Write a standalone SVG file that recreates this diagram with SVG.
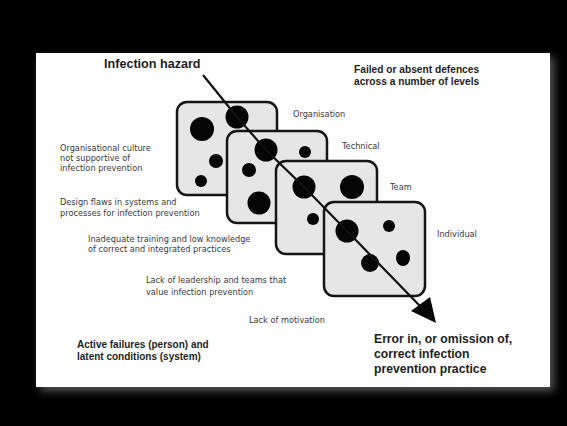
<svg xmlns="http://www.w3.org/2000/svg" width="567" height="426" viewBox="0 0 567 426">
<defs>
<style>
.box{fill:#e6e6e6;stroke:#151515;stroke-width:2.5}
.dot{fill:#050505}
.lbl{font-family:"DejaVu Sans","Liberation Sans",sans-serif;font-size:8.2px;fill:#3a3a3a}
.bold{font-family:"Liberation Sans",Arial,sans-serif;font-weight:bold;fill:#1e1e1e}
</style>
<filter id="sh" x="-10%" y="-10%" width="120%" height="120%">
<feGaussianBlur stdDeviation="4"/>
</filter>
</defs>
<rect x="0" y="0" width="567" height="426" fill="#000"/>
<rect x="40" y="57" width="514" height="334" fill="#555" filter="url(#sh)"/>
<rect x="36" y="53" width="514" height="334" fill="#fff"/>

<g id="box-organisation">
<rect class="box" x="177" y="102" width="100" height="93" rx="10"/>
<circle class="dot" cx="202" cy="129" r="12"/>
<circle class="dot" cx="237" cy="117" r="11.5"/>
<circle class="dot" cx="216" cy="161" r="7"/>
<circle class="dot" cx="201" cy="181" r="6"/>
</g>
<g id="box-technical">
<rect class="box" x="227" y="131" width="100" height="92" rx="10"/>
<circle class="dot" cx="266" cy="150" r="11.5"/>
<circle class="dot" cx="305" cy="152" r="6"/>
<circle class="dot" cx="249" cy="170" r="7"/>
<circle class="dot" cx="259" cy="203" r="11.5"/>
</g>
<g id="box-team">
<rect class="box" x="276" y="161" width="101" height="93" rx="10"/>
<circle class="dot" cx="304" cy="187" r="11.5"/>
<circle class="dot" cx="352" cy="187" r="12"/>
<circle class="dot" cx="313" cy="219" r="6"/>
</g>
<g id="box-individual">
<rect class="box" x="324" y="202" width="101" height="94" rx="10"/>
<circle class="dot" cx="347" cy="231" r="11.5"/>
<circle class="dot" cx="389" cy="226" r="6"/>
<circle class="dot" cx="370" cy="263" r="9"/>
<ellipse class="dot" cx="403" cy="258" rx="7" ry="8"/>
</g>

<g id="connectors">
<polyline points="203,75 237,117 266,150 304,187 347,231 420,306" fill="none" stroke="#111" stroke-width="2.2"/>
<polygon points="436,323 411,311 430,297" fill="#050505"/>
</g>

<g id="labels">
<text class="bold" x="104" y="68" font-size="12.6">Infection hazard</text>
<text class="bold" x="354" y="73" font-size="10.2">Failed or absent defences</text>
<text class="bold" x="354" y="84.5" font-size="10.2">across a number of levels</text>
<text class="lbl" x="293" y="117">Organisation</text>
<text class="lbl" x="342" y="149">Technical</text>
<text class="lbl" x="390" y="190">Team</text>
<text class="lbl" x="437" y="237">Individual</text>
<text class="lbl" x="60" y="151">Organisational culture</text>
<text class="lbl" x="60" y="161">not supportive of</text>
<text class="lbl" x="60" y="171">infection prevention</text>
<text class="lbl" x="60" y="205">Design flaws in systems and</text>
<text class="lbl" x="60" y="216">processes for infection prevention</text>
<text class="lbl" x="88" y="242">Inadequate training and low knowledge</text>
<text class="lbl" x="88" y="252">of correct and integrated practices</text>
<text class="lbl" x="146" y="283">Lack of leadership and teams that</text>
<text class="lbl" x="146" y="295">value infection prevention</text>
<text class="lbl" x="249" y="323">Lack of motivation</text>
<text class="bold" x="77" y="348" font-size="10">Active failures (person) and</text>
<text class="bold" x="77" y="359.5" font-size="10">latent conditions (system)</text>
<text class="bold" x="374" y="343" font-size="12.2">Error in, or omission of,</text>
<text class="bold" x="374" y="358" font-size="12.2">correct infection</text>
<text class="bold" x="374" y="373" font-size="12.2">prevention practice</text>
</g>
</svg>
